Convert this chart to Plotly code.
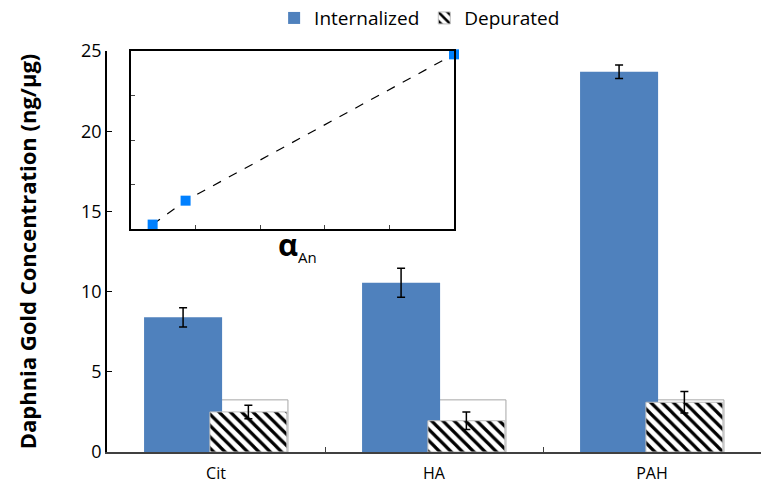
import plotly.graph_objects as go

# ---- data ----
categories = ["Cit", "HA", "PAH"]
internalized = [8.4, 10.55, 23.7]
internalized_err = [0.6, 0.9, 0.42]
depurated = [2.5, 1.95, 3.1]
depurated_err = [0.42, 0.55, 0.67]
reference_level = [3.25, 3.25, 3.25]
y_ticks = [0, 5, 10, 15, 20, 25]

inset_x = [0.067, 0.169, 1.0]
inset_y = [8.4, 10.55, 23.7]
inset_xticks = [0.2, 0.4, 0.6, 0.8]
inset_yticks = [12, 16, 20]

FONT = "Open Sans, Lato, sans-serif"
BLUE = "#4F81BD"

fig = go.Figure()

# thin gray outline level (behind)
fig.add_trace(go.Bar(
    x=categories, y=reference_level, offset=-0.028, width=0.358,
    marker=dict(color="rgba(0,0,0,0)", line=dict(color="#A6A6A6", width=1)),
    showlegend=False, hoverinfo="skip"))

fig.add_trace(go.Bar(
    x=categories, y=internalized, name="Internalized",
    offset=-0.33, width=0.358,
    marker=dict(color=BLUE, line=dict(width=0)),
    error_y=dict(type="data", array=internalized_err, color="black",
                 thickness=1.5, width=4)))

fig.add_trace(go.Bar(
    x=categories, y=depurated, name="Depurated",
    offset=-0.028, width=0.353,
    marker=dict(color="white", line=dict(color="#BFBFBF", width=1),
                pattern=dict(shape="\\", fgcolor="black", bgcolor="white",
                             fgopacity=1, fillmode="overlay",
                             size=8, solidity=0.4)),
    error_y=dict(type="data", array=depurated_err, color="black",
                 thickness=1.5, width=4)))

# inset
fig.add_trace(go.Scatter(
    x=inset_x, y=inset_y, xaxis="x2", yaxis="y2", mode="lines+markers",
    line=dict(color="black", dash="dash", width=1.2),
    marker=dict(symbol="square", size=10, color="#0080FF"),
    cliponaxis=False, showlegend=False))

fig.update_layout(
    width=770, height=489,
    paper_bgcolor="white", plot_bgcolor="rgba(0,0,0,0)",
    margin=dict(l=107, r=9, t=51, b=37, autoexpand=False),
    barmode="overlay",
    font=dict(family=FONT, color="black", size=17),
    legend=dict(orientation="h", x=0.478, xanchor="center",
                yref="container", y=0.963, yanchor="middle",
                font=dict(size=19), traceorder="normal",
                itemwidth=30, bgcolor="rgba(0,0,0,0)"),
    xaxis=dict(type="category", range=[-0.5, 2.5], tickson="boundaries",
               ticks="inside", ticklen=5, tickcolor="#404040",
               showline=True, linecolor="#404040", linewidth=1.5,
               showgrid=False, zeroline=False, automargin=False,
               tickfont=dict(size=16), ticklabelstandoff=6),
    yaxis=dict(range=[0, 25], tickvals=y_ticks, ticks="inside", ticklen=5,
               tickcolor="black", showline=True, linecolor="black",
               linewidth=1.5, showgrid=False, zeroline=False,
               automargin=False, tickfont=dict(size=18),
               title=dict(text="<b>Daphnia Gold Concentration (ng/µg)</b>",
                          font=dict(size=22), standoff=38)),
    xaxis2=dict(domain=[0.0367, 0.5306], anchor="y2", range=[0, 1],
                tickvals=inset_xticks, ticks="inside", ticklen=4,
                showticklabels=False, showline=True, mirror=True,
                linecolor="black", linewidth=1.5, showgrid=False,
                zeroline=False),
    yaxis2=dict(domain=[0.556, 1.0], anchor="x2", range=[8, 24],
                tickvals=inset_yticks, ticks="inside", ticklen=4,
                showticklabels=False, showline=True, mirror=True,
                linecolor="black", linewidth=1.5, showgrid=False,
                zeroline=False),
    annotations=[dict(
        xref="paper", yref="paper", x=0.292, y=0.515, xanchor="center",
        yanchor="middle", showarrow=False,
        text="<b>α</b><sub><span style='font-size:15px'>An</span></sub>",
        font=dict(size=31, family=FONT))],
)

fig.write_html("out.html", config={"displayModeBar": False},
               post_script="document.body.style.margin='0px';document.body.style.padding='0px';")
